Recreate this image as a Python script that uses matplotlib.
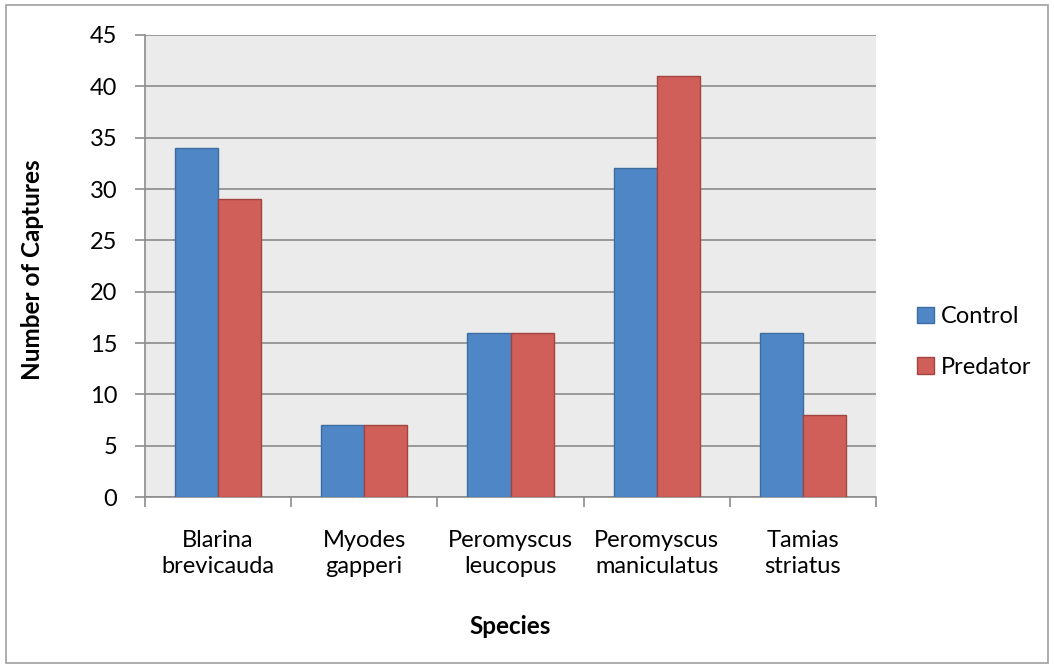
import matplotlib
matplotlib.use("Agg")
import matplotlib.pyplot as plt
import numpy as np
from matplotlib.patches import Rectangle

categories = ["Blarina\nbrevicauda", "Myodes\ngapperi", "Peromyscus\nleucopus",
              "Peromyscus\nmaniculatus", "Tamias\nstriatus"]
control = [34, 7, 16, 32, 16]
predator = [29, 7, 16, 41, 8]
series_names = ["Control", "Predator"]
yticks = [0, 5, 10, 15, 20, 25, 30, 35, 40, 45]

plt.rcParams['font.family'] = ['Lato', 'DejaVu Sans']

fig = plt.figure(figsize=(10.54, 6.68), dpi=100)
ax = fig.add_axes([145/1054, 1-497/668, (876-145)/1054, (497-35)/668])
ax.set_facecolor('#EBEBEB')

x = np.arange(len(categories))
w = 0.295
ax.bar(x - w/2, control, w, color='#4F87C6', edgecolor='#3D6C9F', linewidth=1.0, label=series_names[0], zorder=3)
ax.bar(x + w/2, predator, w, color='#CF5F58', edgecolor='#A24440', linewidth=1.0, label=series_names[1], zorder=3)

ax.set_xlim(-0.5, len(categories) - 0.5)
ax.set_ylim(0, 45)
ax.set_yticks(yticks)
ax.set_yticklabels([str(v) for v in yticks], fontsize=17)
ax.yaxis.grid(True, color='#8C8C8C', linewidth=1.2, zorder=1)
ax.set_axisbelow(True)

ax.set_xticks(x)
ax.set_xticklabels(categories, fontsize=17, linespacing=1.3)
ax.set_xticks(np.arange(len(categories) + 1) - 0.5, minor=True)
ax.tick_params(axis='x', which='major', length=0, pad=24)
ax.tick_params(axis='x', which='minor', length=7, color='#8C8C8C', width=1.2)
ax.tick_params(axis='y', length=7, color='#8C8C8C', width=1.2, pad=13)

for s in ['top', 'right']:
    ax.spines[s].set_visible(False)
for s in ['left', 'bottom']:
    ax.spines[s].set_color('#8C8C8C')
    ax.spines[s].set_linewidth(1.2)

fig.text(510/1054, 1-627/668, "Species", ha='center', va='center', fontsize=17.5, fontweight='bold')
fig.text(33/1054, 1-270/668, "Number of Captures", ha='center', va='center', rotation=90,
         fontsize=17.5, fontweight='bold')

leg = fig.legend(loc='center left', bbox_to_anchor=(896/1054, 1-342/668), frameon=False,
                 fontsize=17, handlelength=0.7, handleheight=0.7, handletextpad=0.3,
                 labelspacing=1.25)

fig.patches.append(Rectangle((6/1054, 5/668), (1048-6)/1054, (663-5)/668, transform=fig.transFigure,
                             fill=False, edgecolor='#A0A0A0', linewidth=1.2))

fig.savefig("out.png", dpi=100)
